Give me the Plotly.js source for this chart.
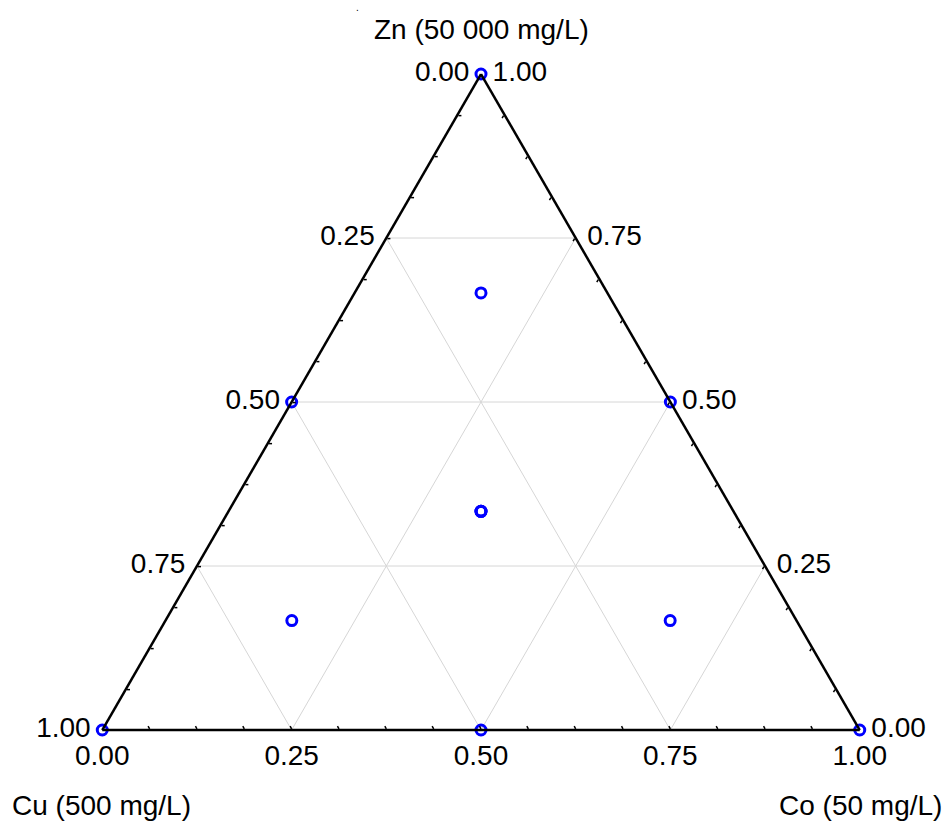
<!DOCTYPE html>
<html>
<head>
<meta charset="utf-8">
<script src="https://cdn.plot.ly/plotly-3.0.1.min.js"></script>
<style>html,body{margin:0;padding:0;background:#fff;}#chart{width:945px;height:832px;}</style>
</head>
<body>
<div id="chart"></div>
<script>
// Design points (fractions): Zn = top vertex, Cu = bottom-left, Co = bottom-right
const zn = [1.00, 0.00, 0.00, 0.50, 0.50, 0.00, 0.333, 0.333, 0.333, 0.667, 0.167, 0.167];
const cu = [0.00, 1.00, 0.00, 0.50, 0.00, 0.50, 0.333, 0.333, 0.333, 0.167, 0.667, 0.167];
const co = [0.00, 0.00, 1.00, 0.00, 0.50, 0.50, 0.333, 0.333, 0.333, 0.167, 0.167, 0.667];

// Axis titles
const titleZn = "Zn (50 000 mg/L)";
const titleCu = "Cu (500 mg/L)";
const titleCo = "Co (50 mg/L)";

// Tick positions (every 1/16) and labels (major every 0.25)
const tickPos = [0, 0.0625, 0.125, 0.1875, 0.25, 0.3125, 0.375, 0.4375, 0.5,
                 0.5625, 0.625, 0.6875, 0.75, 0.8125, 0.875, 0.9375, 1];
// labels reversed: each edge shows the fraction of the component whose vertex it runs toward
const tickTextRev = ["1.00", "", "", "", "0.75", "", "", "", "0.50",
                     "", "", "", "0.25", "", "", "", "0.00"];
const gridLevels = [0.25, 0.5, 0.75];

const font = "Liberation Sans, Arial, sans-serif";
const NB = "\u00a0";
const traces = [];

// grid lines (constant a, b, c) built from grid levels
gridLevels.forEach(g => {
  traces.push({type: "scatterternary", mode: "lines", a: [g, g], b: [1 - g, 0], c: [0, 1 - g],
    line: {color: "#d6d6d6", width: 1}, hoverinfo: "skip", showlegend: false});
  traces.push({type: "scatterternary", mode: "lines", a: [1 - g, 0], b: [g, g], c: [0, 1 - g],
    line: {color: "#d6d6d6", width: 1}, hoverinfo: "skip", showlegend: false});
  traces.push({type: "scatterternary", mode: "lines", a: [1 - g, 0], b: [0, 1 - g], c: [g, g],
    line: {color: "#d6d6d6", width: 1}, hoverinfo: "skip", showlegend: false});
});

traces.push({
  type: "scatterternary", mode: "markers",
  a: zn, b: cu, c: co,
  marker: {symbol: "circle-open", size: 10, color: "#0000ff", line: {width: 3, color: "#0000ff"}},
  showlegend: false, cliponaxis: false
});

function axis(texts) {
  return {
    title: {text: ""},
    tickmode: "array", tickvals: tickPos, ticktext: texts,
    ticks: "inside", ticklen: 3, tickwidth: 1.5, tickcolor: "#000",
    tickfont: {family: font, size: 28, color: "#000"},
    showgrid: false, showline: true, linecolor: "#000", linewidth: 2.5,
    min: 0
  };
}

const aTexts = tickTextRev.map(t => t ? t + NB : t);       // left edge
const bTexts = tickTextRev.slice();                         // bottom edge
const cTexts = tickTextRev.map(t => t ? NB + t : t);       // right edge

const titleFont = {family: font, size: 28, color: "#000"};
const layout = {
  width: 945, height: 832,
  margin: {l: 0, r: 0, t: 0, b: 0},
  paper_bgcolor: "#fff",
  showlegend: false,
  annotations: [
    {text: titleZn, xref: "paper", yref: "paper", x: 481 / 945, y: 1 - 30 / 832,
     xanchor: "center", yanchor: "middle", showarrow: false, font: titleFont},
    {text: titleCu, xref: "paper", yref: "paper", x: 101 / 945, y: 1 - 805 / 832,
     xanchor: "center", yanchor: "middle", showarrow: false, font: titleFont},
    {text: titleCo, xref: "paper", yref: "paper", x: 860 / 945, y: 1 - 805 / 832,
     xanchor: "center", yanchor: "middle", showarrow: false, font: titleFont},
    {text: ".", xref: "paper", yref: "paper", x: 357 / 945, y: 1,
     xanchor: "center", yanchor: "top", showarrow: false,
     font: {family: font, size: 10, color: "#000"}}
  ],
  ternary: {
    domain: {x: [102 / 945, 860 / 945], y: [102 / 832, 758 / 832]},
    bgcolor: "#fff",
    sum: 1,
    aaxis: axis(aTexts),
    baxis: axis(bTexts),
    caxis: axis(cTexts)
  }
};

Plotly.newPlot("chart", traces, layout, {displayModeBar: false, staticPlot: true});
</script>
</body>
</html>
